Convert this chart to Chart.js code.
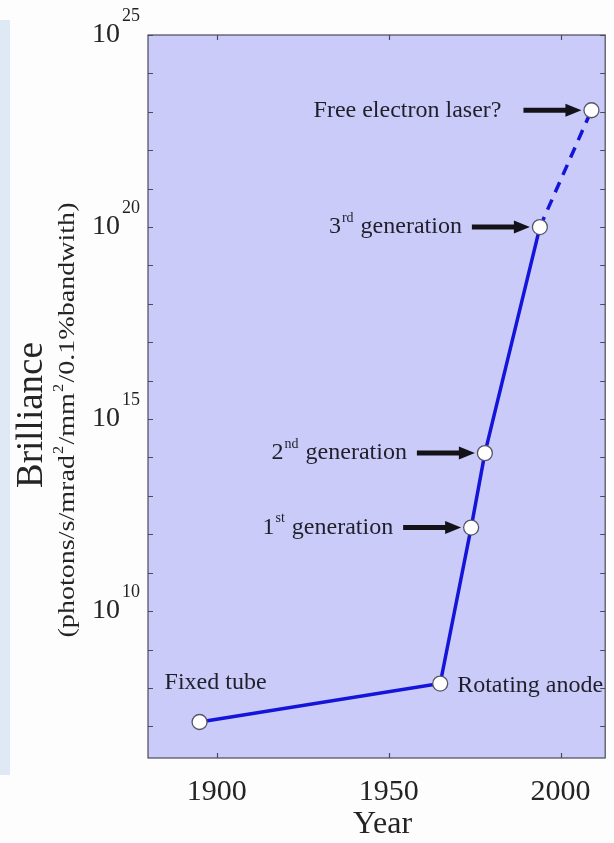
<!DOCTYPE html>
<html>
<head>
<meta charset="utf-8">
<script src="https://cdn.jsdelivr.net/npm/chart.js@4.4.1/dist/chart.umd.min.js"></script>
<style>
  html, body { margin: 0; padding: 0; background: #fdfdfe; }
  #wrap { position: relative; width: 614px; height: 843px; }
  #strip { position: absolute; left: 0; top: 20px; width: 10px; height: 755px; background: #dfe9f5; }
  canvas { position: absolute; left: 0; top: 0; display: block; }
</style>
</head>
<body>
<div id="wrap">
  <div id="strip"></div>
  <canvas id="chart" width="614" height="843"></canvas>
</div>
<script>
  // valeurs
  const YEARS = [1895, 1965, 1974, 1978, 1994, 2009];
  const BRILLIANCE = [1.3e7, 1.3e8, 1.5e12, 1.3e14, 1e20, 1.1e23];
  // segments alternés : texte normal / exposant
  const POINT_LABELS = [
    ['Fixed tube'],
    ['Rotating anode'],
    ['1', 'st', ' generation'],
    ['2', 'nd', ' generation'],
    ['3', 'rd', ' generation'],
    ['Free electron laser?'],
  ];
  const X_TICKS = [1900, 1950, 2000];
  const Y_TICK_EXPONENTS = [10, 15, 20, 25];
  const X_RANGE = [1880, 2013];
  const Y_RANGE = [1.5e6, 1e25];

  const SERIF = '"Liberation Serif", "Times New Roman", serif';
  const TEXT = '#1f1f2a';

  function richWidth(ctx, parts, size, supSize) {
    let w = 0;
    parts.forEach((p, i) => {
      ctx.font = `${i % 2 ? supSize : size}px ${SERIF}`;
      w += ctx.measureText(p).width + (i % 2 ? 2 : 0);
    });
    return w;
  }

  function drawRich(ctx, parts, x, y, align, size = 24, supSize = 14) {
    const w = richWidth(ctx, parts, size, supSize);
    let cx = align === 'right' ? x - w : align === 'center' ? x - w / 2 : x;
    ctx.textAlign = 'left';
    ctx.textBaseline = 'middle';
    parts.forEach((p, i) => {
      const sup = i % 2 === 1;
      ctx.font = `${sup ? supSize : size}px ${SERIF}`;
      if (sup) cx += 1;
      ctx.fillText(p, cx, sup ? y - 9 : y);
      cx += ctx.measureText(p).width + (sup ? 1 : 0);
    });
  }

  function drawArrow(ctx, x0, x1, y) {
    ctx.save();
    ctx.strokeStyle = '#121218';
    ctx.fillStyle = '#121218';
    ctx.lineWidth = 5;
    ctx.beginPath();
    ctx.moveTo(x0, y);
    ctx.lineTo(x1 - 12, y);
    ctx.stroke();
    ctx.beginPath();
    ctx.moveTo(x1, y);
    ctx.lineTo(x1 - 16, y - 6.5);
    ctx.lineTo(x1 - 16, y + 6.5);
    ctx.closePath();
    ctx.fill();
    ctx.restore();
  }

  const plotBackground = {
    id: 'plotBackground',
    beforeDraw(chart) {
      const { ctx, chartArea: a } = chart;
      ctx.save();
      ctx.fillStyle = '#cbcbf9';
      ctx.fillRect(a.left, a.top, a.right - a.left, a.bottom - a.top);
      ctx.restore();
    },
  };

  const axesAndNotes = {
    id: 'axesAndNotes',
    afterDraw(chart) {
      const { ctx, chartArea: a } = chart;
      const xs = chart.scales.x;
      const ys = chart.scales.y;
      ctx.save();

      // cadre + graduations
      ctx.strokeStyle = '#4a4a58';
      ctx.lineWidth = 1.2;
      ctx.strokeRect(a.left, a.top, a.right - a.left, a.bottom - a.top);
      const lo = Math.ceil(Math.log10(Y_RANGE[0]));
      const hi = Math.floor(Math.log10(Y_RANGE[1]));
      ctx.beginPath();
      for (let e = lo; e <= hi; e++) {
        const y = Math.round(ys.getPixelForValue(10 ** e)) + 0.5;
        ctx.moveTo(a.left, y); ctx.lineTo(a.left + 5, y);
        ctx.moveTo(a.right, y); ctx.lineTo(a.right - 5, y);
      }
      X_TICKS.forEach((t) => {
        const x = Math.round(xs.getPixelForValue(t)) + 0.5;
        ctx.moveTo(x, a.bottom); ctx.lineTo(x, a.bottom - 5);
        ctx.moveTo(x, a.top); ctx.lineTo(x, a.top + 5);
      });
      ctx.stroke();

      // étiquettes des axes
      ctx.fillStyle = '#242424';
      ctx.textBaseline = 'alphabetic';
      ctx.textAlign = 'center';
      ctx.font = `30px ${SERIF}`;
      X_TICKS.forEach((t) => ctx.fillText(String(t), xs.getPixelForValue(t), 800));
      ctx.font = `32px ${SERIF}`;
      ctx.fillText('Year', (a.left + a.right) / 2 + 6, 833);

      Y_TICK_EXPONENTS.forEach((e) => {
        const y = ys.getPixelForValue(10 ** e);
        ctx.textBaseline = 'middle';
        ctx.textAlign = 'right';
        ctx.font = `28px ${SERIF}`;
        ctx.fillText('10', 120, y);
        ctx.textAlign = 'left';
        ctx.font = `18px ${SERIF}`;
        ctx.fillText(String(e), 122, y - 19);
      });

      // titre de l'axe y
      ctx.save();
      ctx.translate(42, 415);
      ctx.rotate(-Math.PI / 2);
      ctx.textAlign = 'center';
      ctx.textBaseline = 'alphabetic';
      ctx.font = `37px ${SERIF}`;
      ctx.fillText('Brilliance', 0, 0);
      ctx.restore();

      const sub = ['(photons/s/mrad', '2', '/mm', '2', '/0.1%bandwith)'];
      ctx.save();
      ctx.translate(75, 420);
      ctx.rotate(-Math.PI / 2);
      const natural = richWidth(ctx, sub, 24, 14);
      ctx.scale(435 / natural, 1);
      drawRich(ctx, sub, 0, -7, 'center', 24, 14);
      ctx.restore();

      // annotations des points
      const meta = chart.getDatasetMeta(0);
      ctx.fillStyle = TEXT;
      meta.data.forEach((pt, i) => {
        const parts = POINT_LABELS[i];
        if (i === 0) {
          drawRich(ctx, parts, pt.x + 16, pt.y - 39, 'center');
        } else if (i === 1) {
          drawRich(ctx, parts, pt.x + 17, pt.y + 2, 'left');
        } else {
          const tip = pt.x - 10;
          const start = tip - 58;
          drawArrow(ctx, start, tip, pt.y);
          ctx.fillStyle = TEXT;
          drawRich(ctx, parts, start - (i === meta.data.length - 1 ? 22 : 10), pt.y, 'right');
        }
      });
      ctx.restore();
    },
  };

  new Chart(document.getElementById('chart'), {
    type: 'line',
    data: {
      datasets: [{
        data: YEARS.map((x, i) => ({ x, y: BRILLIANCE[i] })),
        borderColor: '#1414da',
        borderWidth: 3.5,
        tension: 0,
        pointRadius: 7.5,
        pointBackgroundColor: '#ffffff',
        pointBorderColor: '#55556a',
        pointBorderWidth: 1.3,
        segment: {
          borderDash: (ctx) => (ctx.p1DataIndex === YEARS.length - 1 ? [11, 8] : undefined),
        },
      }],
    },
    options: {
      responsive: false,
      animation: false,
      events: [],
      layout: { padding: { left: 148, top: 35, right: 6, bottom: 85 } },
      plugins: { legend: { display: false }, tooltip: { enabled: false } },
      scales: {
        x: { type: 'linear', min: X_RANGE[0], max: X_RANGE[1], display: false },
        y: { type: 'logarithmic', min: Y_RANGE[0], max: Y_RANGE[1], display: false },
      },
    },
    plugins: [plotBackground, axesAndNotes],
  });
</script>
</body>
</html>
